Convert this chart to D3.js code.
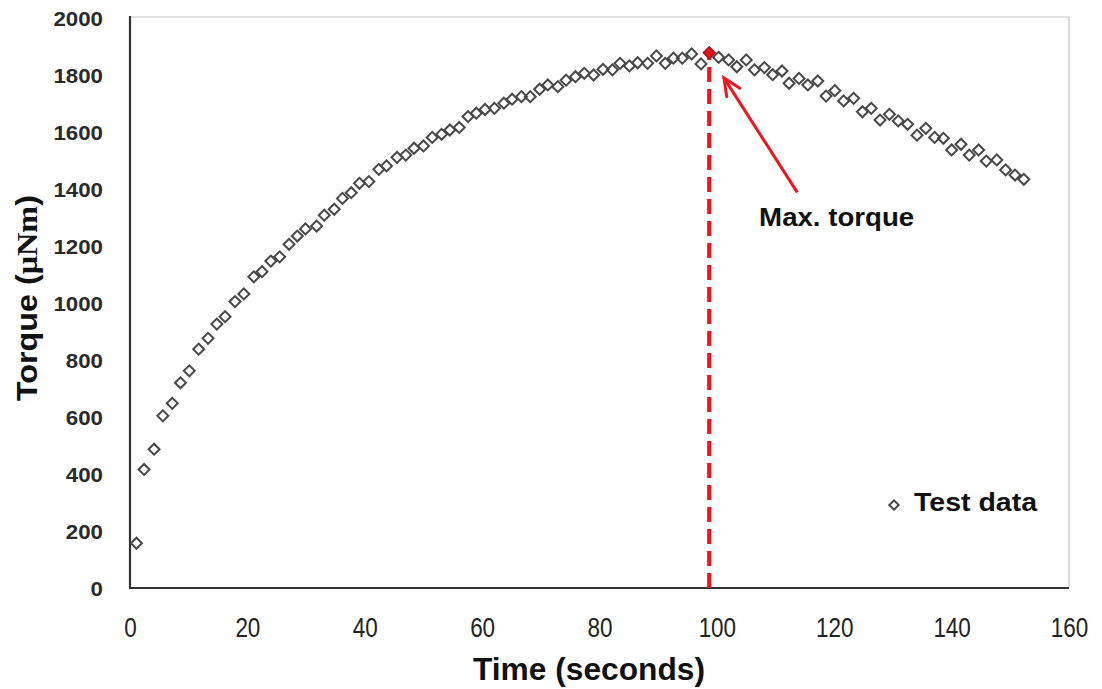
<!DOCTYPE html>
<html>
<head>
<meta charset="utf-8">
<script src="https://cdn.jsdelivr.net/npm/d3@7"></script>
<style>
  html, body { margin: 0; padding: 0; background: #fff; }
  svg { display: block; }
</style>
</head>
<body>
<svg id="chart" width="1102" height="689"></svg>
<script>
// ---- data ----
const times = [1.1, 2.4, 4.1, 5.6, 7.2, 8.6, 10.1, 11.7, 13.3, 14.8, 16.2, 17.9, 19.4, 21.1, 22.5, 24.0, 25.5, 27.1, 28.5, 29.9,
  31.8, 33.1, 34.8, 36.2, 37.7, 39.1, 40.7, 42.4, 43.7, 45.5, 47.0, 48.4, 50.0, 51.5, 53.1, 54.5, 56.1, 57.6, 59.0, 60.5,
  62.1, 63.7, 65.1, 66.7, 68.2, 69.8, 71.2, 72.9, 74.3, 75.9, 77.4, 79.0, 80.6, 82.2, 83.5, 85.1, 86.5, 88.2, 89.7, 91.2,
  92.6, 94.1, 95.7, 97.3, 98.7, 100.3, 102.0, 103.4, 105.0, 106.4, 108.1, 109.5, 111.1, 112.3, 114.0, 115.5, 117.2, 118.6, 120.1, 121.6,
  123.3, 124.8, 126.3, 127.8, 129.4, 130.9, 132.5, 134.1, 135.6, 137.1, 138.6, 140.0, 141.6, 143.0, 144.6, 145.9, 147.7, 149.2, 150.8, 152.3];
const torque = [157, 416, 487, 604, 648, 720, 762, 838, 876, 926, 952, 1005, 1032, 1092, 1110, 1147, 1162, 1206, 1235, 1260,
  1270, 1308, 1329, 1367, 1387, 1420, 1426, 1469, 1481, 1511, 1519, 1543, 1551, 1581, 1592, 1607, 1616, 1654, 1666, 1679,
  1683, 1701, 1715, 1724, 1724, 1750, 1765, 1759, 1782, 1794, 1806, 1800, 1820, 1818, 1841, 1832, 1843, 1841, 1867, 1841,
  1859, 1859, 1874, 1839, 1878, 1862, 1853, 1829, 1853, 1818, 1826, 1801, 1814, 1771, 1788, 1765, 1779, 1726, 1745, 1709,
  1718, 1671, 1683, 1642, 1662, 1639, 1627, 1589, 1613, 1581, 1578, 1537, 1557, 1519, 1537, 1498, 1502, 1467, 1449, 1434];
const xTicks = [0, 20, 40, 60, 80, 100, 120, 140, 160];
const yTicks = [0, 200, 400, 600, 800, 1000, 1200, 1400, 1600, 1800, 2000];
const seriesName = "Test data";
const annotationText = "Max. torque";
const maxTime = 98.7;
const maxTorque = 1878;
const arrowTip = [101.2, 1790];
const arrowTail = [113.7, 1388];
const annotationPos = [107.2, 1270];

// ---- layout ----
const svg = d3.select("#chart");
const mLeft = 130, mRight = 1069, mTop = 18, mBottom = 588;
const x = d3.scaleLinear().domain([0, 160]).range([mLeft, mRight]);
const y = d3.scaleLinear().domain([0, 2000]).range([mBottom, mTop]);

// plot frame (top/right light)
svg.append("line").attr("x1", mLeft).attr("x2", mRight).attr("y1", mTop - 1).attr("y2", mTop - 1)
  .attr("stroke", "#c4c4c4").attr("stroke-width", 1.2);
svg.append("line").attr("x1", mRight).attr("x2", mRight).attr("y1", mTop - 1).attr("y2", mBottom)
  .attr("stroke", "#c4c4c4").attr("stroke-width", 1.2);

// axes
const xAxis = d3.axisBottom(x).tickValues(xTicks).tickSize(0).tickFormat(d3.format("d"));
const gx = svg.append("g").attr("transform", `translate(0,${mBottom})`).call(xAxis);
gx.select(".domain").remove();
gx.selectAll("text")
  .attr("y", 49).attr("dy", null)
  .attr("font-family", "'Liberation Sans', Arial, sans-serif")
  .attr("font-size", 27).attr("fill", "#222")
  .attr("textLength", d => String(d).length * 12.5)
  .attr("lengthAdjust", "spacingAndGlyphs");

const yAxis = d3.axisLeft(y).tickValues(yTicks).tickSize(0).tickFormat(d3.format("d"));
const gy = svg.append("g").attr("transform", `translate(${mLeft},0)`).call(yAxis);
gy.select(".domain").remove();
gy.selectAll("text")
  .attr("x", -27).attr("dy", "0.36em")
  .attr("font-family", "'Liberation Sans', Arial, sans-serif")
  .attr("font-size", 21).attr("font-weight", "bold").attr("fill", "#2a2a2a")
  .attr("textLength", d => String(d).length * 12.4)
  .attr("lengthAdjust", "spacingAndGlyphs");

svg.append("line").attr("x1", mLeft).attr("x2", mLeft).attr("y1", mTop - 2).attr("y2", mBottom + 1)
  .attr("stroke", "#333").attr("stroke-width", 2.2);
svg.append("line").attr("x1", mLeft - 1).attr("x2", mRight).attr("y1", mBottom).attr("y2", mBottom)
  .attr("stroke", "#333").attr("stroke-width", 2.2);

// axis titles
svg.append("text")
  .attr("x", 589).attr("y", 680).attr("text-anchor", "middle")
  .attr("font-family", "'Liberation Sans', Arial, sans-serif")
  .attr("font-size", 31).attr("font-weight", "bold").attr("fill", "#111")
  .attr("textLength", 232).attr("lengthAdjust", "spacingAndGlyphs")
  .text("Time (seconds)");

const yt = svg.append("text")
  .attr("transform", "translate(37,298) rotate(-90)")
  .attr("text-anchor", "middle")
  .attr("font-family", "'Liberation Sans', Arial, sans-serif")
  .attr("font-size", 30).attr("font-weight", "bold").attr("fill", "#111")
  .attr("textLength", 206).attr("lengthAdjust", "spacingAndGlyphs");
yt.append("tspan").text("Torque (");
yt.append("tspan").attr("font-family", "'Liberation Serif', 'Times New Roman', serif").text("μNm");
yt.append("tspan").text(")");

// data markers
const diamond = d3.symbol().type(d3.symbolSquare).size(60);
const pts = times.map((t, i) => ({ t, v: torque[i] }));
svg.append("g").selectAll("path").data(pts).join("path")
  .attr("d", diamond)
  .attr("transform", d => `translate(${x(d.t)},${y(d.v)}) rotate(45)`)
  .attr("fill", "none").attr("stroke", "#484848").attr("stroke-width", 2);

// max line
svg.append("line")
  .attr("x1", x(maxTime)).attr("x2", x(maxTime))
  .attr("y1", y(0)).attr("y2", y(maxTorque) + 4)
  .attr("stroke", "#f0141e").attr("stroke-width", 4.2)
  .attr("stroke-dasharray", "15,7");
svg.append("path")
  .attr("d", d3.symbol().type(d3.symbolSquare).size(64))
  .attr("transform", `translate(${x(maxTime)},${y(maxTorque)}) rotate(45)`)
  .attr("fill", "#e8101a").attr("stroke", "#b8101a").attr("stroke-width", 1.4);

// arrow
const tipX = x(arrowTip[0]), tipY = y(arrowTip[1]);
const tailX = x(arrowTail[0]), tailY = y(arrowTail[1]);
const ang = Math.atan2(tailY - tipY, tailX - tipX);
const headLen = 19, spread = 0.42;
svg.append("line").attr("x1", tailX).attr("y1", tailY).attr("x2", tipX).attr("y2", tipY)
  .attr("stroke", "#f0141e").attr("stroke-width", 3);
svg.append("path")
  .attr("d", d3.line()([
    [tipX + headLen * Math.cos(ang - spread), tipY + headLen * Math.sin(ang - spread)],
    [tipX, tipY],
    [tipX + headLen * Math.cos(ang + spread), tipY + headLen * Math.sin(ang + spread)]
  ]))
  .attr("fill", "none").attr("stroke", "#f0141e").attr("stroke-width", 3)
  .attr("stroke-linejoin", "miter").attr("stroke-linecap", "round");

svg.append("text")
  .attr("x", x(annotationPos[0])).attr("y", y(annotationPos[1]))
  .attr("font-family", "'Liberation Sans', Arial, sans-serif")
  .attr("font-size", 25).attr("font-weight", "bold").attr("fill", "#111")
  .attr("textLength", 155).attr("lengthAdjust", "spacingAndGlyphs")
  .text(annotationText);

// legend
svg.append("path")
  .attr("d", d3.symbol().type(d3.symbolSquare).size(44))
  .attr("transform", "translate(894,505) rotate(45)")
  .attr("fill", "none").attr("stroke", "#484848").attr("stroke-width", 2);
svg.append("text")
  .attr("x", 914).attr("y", 511)
  .attr("font-family", "'Liberation Sans', Arial, sans-serif")
  .attr("font-size", 26).attr("font-weight", "bold").attr("fill", "#111")
  .attr("textLength", 123).attr("lengthAdjust", "spacingAndGlyphs")
  .text(seriesName);
</script>
</body>
</html>
